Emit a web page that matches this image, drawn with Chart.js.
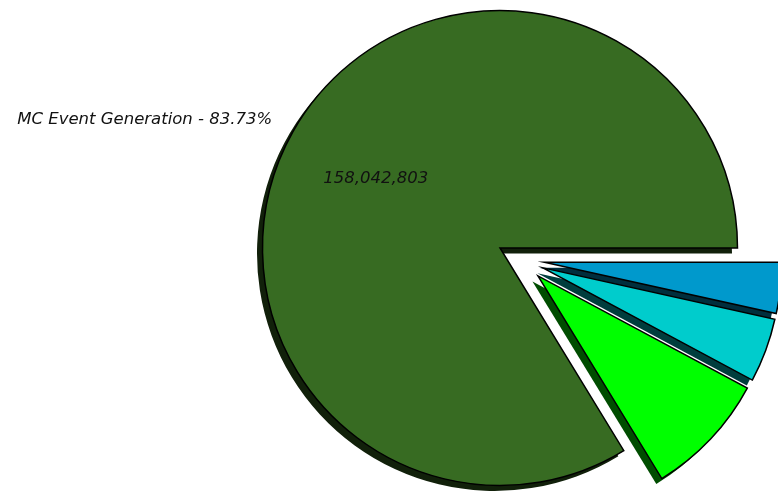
<!DOCTYPE html>
<html>
<head>
<meta charset="utf-8">
<title>Jobs by type</title>
<script src="https://cdn.jsdelivr.net/npm/chart.js@4.4.0/dist/chart.umd.min.js"></script>
<style>
  html, body { margin: 0; padding: 0; background: #fff; }
  #wrap { width: 778px; height: 493px; position: relative; }
</style>
</head>
<body>
<div id="wrap"><canvas id="pie-chart"></canvas></div>
<script>
// job types, counter-clockwise from 3 o'clock
const categories = ['MC Event Generation', 'MC Simulation', 'MC Reconstruction', 'User Analysis'];
const jobCounts = [158042803, 15930000, 8230000, 6550000];

const sliceColors = ['#376b22', '#00ff00', '#00cccc', '#0099cc'];
const explode = [0, 0.1, 0.1, 0.1];   // each wedge, fraction of the radius
const minorPull = 0.1;                // minor wedges also pulled out together
const labelMinPct = 10;               // smaller wedges get no text
const SHADOW = { dx: -5.5, dy: 5.5, k: 0.3 };
const FONT = 'italic 16.5px "DejaVu Sans"';

// chart.js goes clockwise, so feed it the list backwards
const order = jobCounts.map((_, i) => i).reverse();
const total = jobCounts.reduce((a, b) => a + b, 0);
const isMinor = i => jobCounts[i] / total * 100 < labelMinPct;

function darken(hex, k) {
    const n = parseInt(hex.slice(1), 16);
    const r = Math.round(((n >> 16) & 255) * k);
    const g = Math.round(((n >> 8) & 255) * k);
    const b = Math.round((n & 255) * k);
    return `rgb(${r},${g},${b})`;
}

const pieExtras = {
    id: 'pieExtras',
    beforeDatasetsDraw(chart) {
        const ctx = chart.ctx;
        const arcs = chart.getDatasetMeta(0).data;

        // bisector of the minor wedges taken as one block
        let lo = Infinity, hi = -Infinity;
        arcs.forEach((arc, j) => {
            if (isMinor(order[j])) {
                lo = Math.min(lo, arc.startAngle);
                hi = Math.max(hi, arc.endAngle);
            }
        });
        const grpMid = (lo + hi) / 2;

        arcs.forEach((arc, j) => {
            const i = order[j];
            const mid = (arc.startAngle + arc.endAngle) / 2;
            const r = arc.outerRadius;
            const pull = isMinor(i) ? minorPull * r : 0;
            arc.$home = { x: arc.x, y: arc.y };
            arc.x += Math.cos(mid) * explode[i] * r + Math.cos(grpMid) * pull;
            arc.y += Math.sin(mid) * explode[i] * r + Math.sin(grpMid) * pull;
        });

        // drop shadows sit under every wedge
        ctx.save();
        arcs.forEach((arc, j) => {
            const cx = arc.x + SHADOW.dx, cy = arc.y + SHADOW.dy;
            ctx.fillStyle = darken(sliceColors[order[j]], SHADOW.k);
            ctx.beginPath();
            ctx.moveTo(cx, cy);
            ctx.arc(cx, cy, arc.outerRadius, arc.startAngle, arc.endAngle);
            ctx.closePath();
            ctx.fill();
        });
        ctx.restore();
    },
    afterDatasetsDraw(chart) {
        const ctx = chart.ctx;
        const arcs = chart.getDatasetMeta(0).data;
        ctx.save();
        ctx.font = FONT;
        ctx.fillStyle = '#111';
        ctx.textBaseline = 'middle';
        arcs.forEach((arc, j) => {
            const i = order[j];
            const pct = jobCounts[i] / total * 100;
            if (!isMinor(i)) {
                const mid = (arc.startAngle + arc.endAngle) / 2;
                const c = Math.cos(mid), s = Math.sin(mid);
                const r = arc.outerRadius;
                ctx.textAlign = c < 0 ? 'right' : 'left';
                ctx.fillText(`${categories[i]} - ${pct.toFixed(2)}%`, arc.x + c * r * 1.1, arc.y + s * r * 1.1);
                ctx.textAlign = 'center';
                ctx.fillText(jobCounts[i].toLocaleString('en-US'), arc.x + c * r * 0.6, arc.y + s * r * 0.6);
            }
            arc.x = arc.$home.x;
            arc.y = arc.$home.y;
        });
        ctx.restore();
    }
};

new Chart(document.getElementById('pie-chart'), {
    type: 'pie',
    data: {
        labels: order.map(i => categories[i]),
        datasets: [{
            data: order.map(i => jobCounts[i]),
            backgroundColor: order.map(i => sliceColors[i]),
            borderColor: '#000',
            borderWidth: 1.5,
            borderJoinStyle: 'miter',
            radius: 237.5,
            rotation: 90
        }]
    },
    options: {
        responsive: true,
        maintainAspectRatio: false,
        animation: false,
        events: [],
        layout: { padding: { left: 222, right: 0, top: 3, bottom: 0 } },
        plugins: {
            legend: { display: false },
            tooltip: { enabled: false }
        }
    },
    plugins: [pieExtras]
});
</script>
</body>
</html>
